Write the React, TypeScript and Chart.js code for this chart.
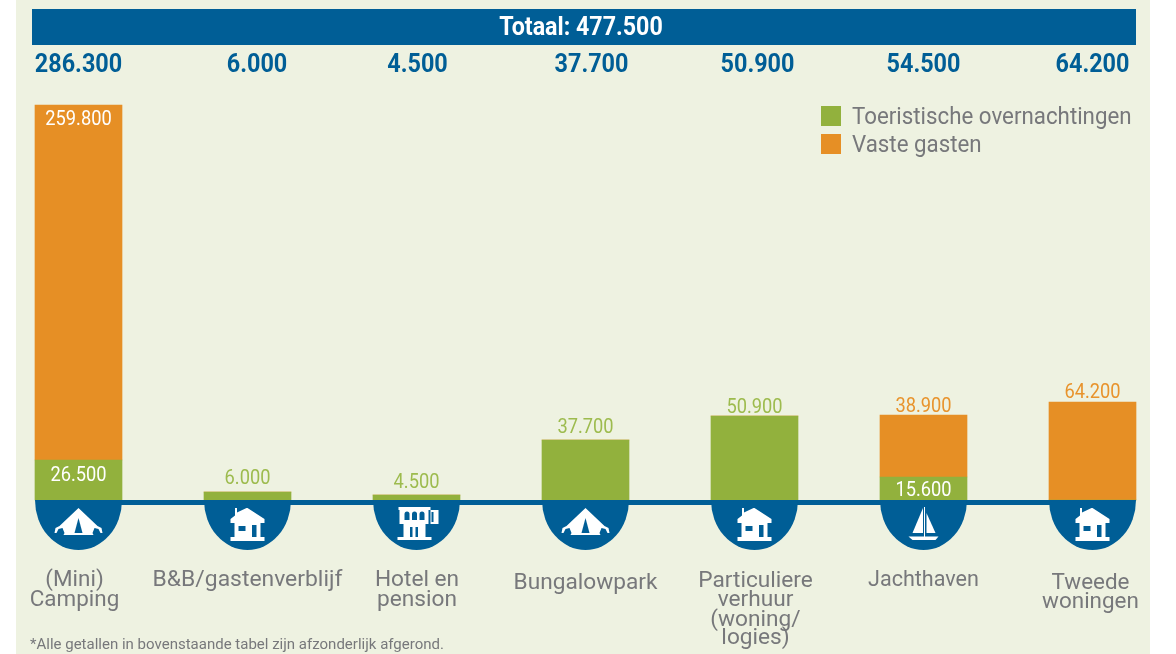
import React, { useEffect, useRef } from "react";
import { Chart, registerables } from "chart.js";

Chart.register(...registerables);

const categories = ["(Mini) Camping", "B&B/gastenverblijf", "Hotel en pension", "Bungalowpark", "Particuliere verhuur (woning/ logies)", "Jachthaven", "Tweede woningen"];
// The source graphic is not drawn to scale, so bar lengths are read from the picture
// and the printed figures are kept separately below.
const toeristischLengths = [29000, 5800, 3600, 43500, 60900, 16700, 0];
const vasteLengths = [257300, 0, 0, 0, 0, 44900, 71000];
const toeristischLabels = ["26.500", "6.000", "4.500", "37.700", "50.900", "15.600", ""];
const vasteLabels = ["259.800", "", "", "", "", "38.900", "64.200"];
const totals = ["286.300", "6.000", "4.500", "37.700", "50.900", "54.500", "64.200"];
const categoryLines = [["(Mini)", "Camping"], ["B&B/gastenverblijf"], ["Hotel en", "pension"], ["Bungalowpark"], ["Particuliere", "verhuur", "(woning/", "logies)"], ["Jachthaven"], ["Tweede", "woningen"]];
const icons = ["tent", "house", "hotel", "tent", "house", "boat", "house"];
const title = "Totaal: 477.500";
const footnote = "*Alle getallen in bovenstaande tabel zijn afzonderlijk afgerond.";
const legendNames = ["Toeristische overnachtingen", "Vaste gasten"];

const BLUE = "#005E96", GREEN = "#92B13D", ORANGE = "#E68F25", BG = "#EEF2E1", GREY = "#77787B", LGREEN = "#9DBB4E", WHITE = "#FFFFFF", LORANGE = "#E8932C";
const FONT = "Roboto, sans-serif";

const labelStyle = [
  { dx: -4, sx: 1.02, ys: [580, 600] }, { dx: 0, sx: 1.04, ys: [580] }, { dx: 0.5, sx: 1.03, ys: [580, 600] }, { dx: 0, sx: 1.03, ys: [583] },
  { dx: 1, sx: 1.03, ys: [581, 600, 620, 638] }, { dx: 0, sx: 0.98, ys: [580] }, { dx: -2, sx: 1.02, ys: [583, 602] },
];
// sideways offset of each total above the chart, as placed in the source
const totalOffset = [0, 9.5, 1, 6, 3, 0, 0];
// distance of each value label from the top of its bar segment
const greenLabelGap = [-16, 13, 12, 12, 8, -14, 0];
const orangeLabelGap = [-15, 0, 0, 0, 0, 8, 9];

function text(ctx: CanvasRenderingContext2D, s: string, x: number, y: number, size: number, weight: number, color: string, sx: number, align: CanvasTextAlign = "center") {
  ctx.save();
  ctx.translate(x, y);
  ctx.scale(sx, 1);
  ctx.font = `${weight} ${size}px ${FONT}`;
  ctx.fillStyle = color;
  ctx.textAlign = align;
  ctx.textBaseline = "middle";
  ctx.fillText(s, 0, 0);
  ctx.restore();
}

function poly(ctx: CanvasRenderingContext2D, pts: number[][], color: string) {
  ctx.fillStyle = color;
  ctx.beginPath();
  pts.forEach((p, i) => (i ? ctx.lineTo(p[0], p[1]) : ctx.moveTo(p[0], p[1])));
  ctx.closePath();
  ctx.fill();
}

function drawIcon(ctx: CanvasRenderingContext2D, kind: string) {
  // local coordinates: origin on the bar centre at the baseline
  if (kind === "tent") {
    poly(ctx, [[0, 8], [19, 26], [23, 28], [24, 33], [22, 33], [20, 29], [16, 28], [14, 33], [15, 35], [-15, 35], [-14, 33], [-16, 28], [-20, 29], [-22, 33], [-24, 33], [-23, 28], [-19, 26]], WHITE);
    poly(ctx, [[0, 18], [4, 33], [-4, 33]], BLUE);
  } else if (kind === "house") {
    poly(ctx, [[-10.5, 8], [-10.5, 12.5], [-1, 8], [0, 8], [17, 19], [17, 23], [13, 23], [13, 37], [17, 37], [17, 41], [-17, 41], [-17, 37], [-13, 37], [-13, 23], [-17, 23], [-17, 19], [-12.5, 15.5], [-12.5, 8]], WHITE);
    ctx.fillStyle = BLUE;
    ctx.fillRect(-9, 26, 7, 5);
    ctx.fillRect(4.5, 25, 4.5, 12);
  } else if (kind === "hotel") {
    ctx.fillStyle = WHITE;
    ctx.fillRect(-18, 7, 32, 3);
    ctx.fillRect(-17, 10, 29, 14);
    ctx.fillRect(-13, 24, 22, 13);
    ctx.fillRect(-19, 37, 34, 3);
    ctx.fillRect(14, 10, 8, 14);
    ctx.fillStyle = BLUE;
    [-12, -4.5, 3].forEach((x) => {
      ctx.fillRect(x, 14, 5, 6);
      ctx.beginPath();
      ctx.arc(x + 2.5, 14, 2.5, Math.PI, 0);
      ctx.fill();
    });
    ctx.fillRect(-6.5, 27, 2.5, 10);
    ctx.fillRect(-1, 27, 2.5, 10);
    ctx.fillRect(15, 12, 2, 10);
  } else {
    poly(ctx, [[-0.5, 8], [-0.5, 33], [-11, 33]], WHITE);
    poly(ctx, [[3, 13], [3, 33], [12, 33]], WHITE);
    ctx.fillStyle = WHITE;
    ctx.fillRect(0.5, 7, 1, 30);
    poly(ctx, [[-15, 36.5], [15, 36.5], [12, 40], [-11, 40]], WHITE);
  }
}

const painter = {
  id: "painter",
  beforeDraw(chart: any) {
    const ctx: CanvasRenderingContext2D = chart.ctx;
    ctx.save();
    ctx.fillStyle = BG;
    ctx.fillRect(16, 0, 1134, 654);
    ctx.fillStyle = BLUE;
    ctx.fillRect(32, 9, 1104, 36);
    ctx.restore();
    text(ctx, title, 581, 28.5, 25, 700, WHITE, 0.93);
    const xs = chart.scales.x;
    totals.forEach((t, i) => text(ctx, t, xs.getPixelForValue(i) + totalOffset[i], 65, 26, 700, BLUE, 0.9));
    legendNames.forEach((name, i) => {
      const y = 106 + i * 28;
      ctx.fillStyle = i ? ORANGE : GREEN;
      ctx.fillRect(821, y, 20, 20);
      text(ctx, name, 852, y + 12, 23, 400, GREY, 0.97, "left");
    });
    categoryLines.forEach((lines, i) => {
      const st = labelStyle[i];
      lines.forEach((l, j) => text(ctx, l, xs.getPixelForValue(i) + st.dx, st.ys[j], 22, 400, GREY, st.sx));
    });
    text(ctx, footnote, 30, 645, 14.5, 400, GREY, 1.035, "left");
  },
  afterDatasetsDraw(chart: any) {
    const ctx: CanvasRenderingContext2D = chart.ctx;
    const xs = chart.scales.x;
    const base = chart.scales.y.getPixelForValue(0);
    ctx.save();
    ctx.fillStyle = BLUE;
    ctx.fillRect(xs.getPixelForValue(0), base, xs.getPixelForValue(6) - xs.getPixelForValue(0), 5);
    categories.forEach((_, i) => {
      const cx = xs.getPixelForValue(i);
      ctx.fillStyle = BLUE;
      ctx.beginPath();
      ctx.ellipse(cx, base, 43.5, 50, 0, 0, Math.PI);
      ctx.closePath();
      ctx.fill();
      ctx.save();
      ctx.translate(cx, base);
      drawIcon(ctx, icons[i]);
      ctx.restore();
    });
    ctx.restore();
    const gm = chart.getDatasetMeta(0).data;
    const om = chart.getDatasetMeta(1).data;
    categories.forEach((_, i) => {
      const g = gm[i], o = om[i], cx = g.x;
      if (toeristischLabels[i]) {
        text(ctx, toeristischLabels[i], cx, g.y - greenLabelGap[i], 21, 400, greenLabelGap[i] < 0 ? WHITE : LGREEN, 0.87);
      }
      if (vasteLabels[i]) {
        text(ctx, vasteLabels[i], cx, o.y - orangeLabelGap[i], 21, 400, orangeLabelGap[i] < 0 ? WHITE : LORANGE, 0.87);
      }
    });
  },
};

export default function App() {
  const ref = useRef<HTMLCanvasElement>(null);
  useEffect(() => {
    const chart = new Chart(ref.current!, {
      type: "bar",
      data: {
        labels: categories,
        datasets: [
          { label: legendNames[0], data: toeristischLengths, backgroundColor: GREEN, barThickness: 87, clip: false } as any,
          { label: legendNames[1], data: vasteLengths, backgroundColor: ORANGE, barThickness: 87, clip: false } as any,
        ],
      },
      options: {
        responsive: false,
        animation: false,
        layout: { padding: { left: 78.5, right: 83.5, top: 105, bottom: 154 } },
        plugins: { legend: { display: false }, title: { display: false }, tooltip: { enabled: false } },
        scales: {
          x: { stacked: true, offset: false, display: false },
          y: { stacked: true, min: 0, max: 286300, display: false },
        },
      },
      plugins: [painter],
    });
    return () => chart.destroy();
  }, []);
  return (
    <div style={{ position: "absolute", left: 0, top: 0, width: 1176, height: 654, background: "#fff" }}>
      <canvas ref={ref} width={1176} height={654} style={{ display: "block" }} />
    </div>
  );
}
